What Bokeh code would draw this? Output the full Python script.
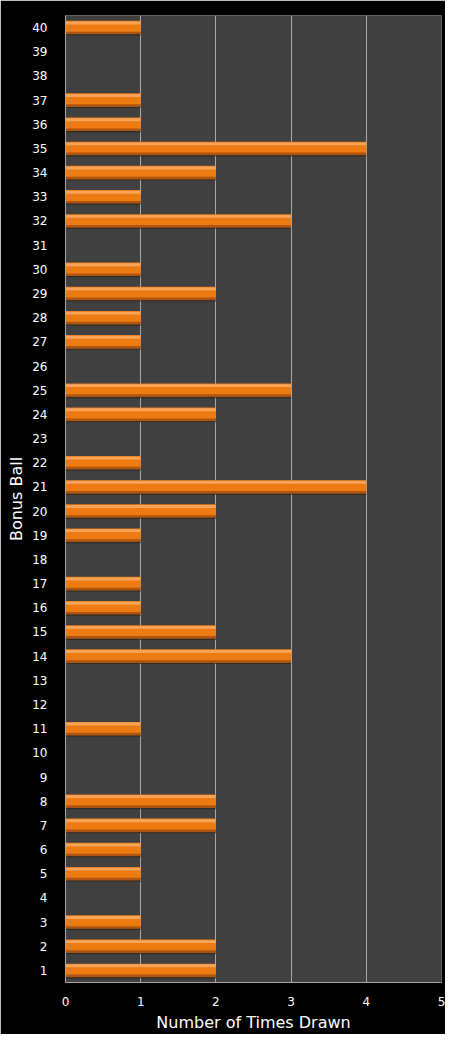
from bokeh.embed import file_html
from bokeh.resources import INLINE
from bokeh.models import ColumnDataSource, FactorRange, Range1d, FixedTicker
from bokeh.plotting import figure
from bokeh.transform import dodge

# bonus ball numbers and how often each one was drawn
balls = [str(i) for i in range(1, 41)]
times_drawn = [2, 2, 1, 0, 1, 1, 2, 2, 0, 0,
               1, 0, 0, 3, 2, 1, 1, 0, 1, 2,
               4, 1, 0, 2, 3, 0, 1, 1, 2, 1,
               0, 3, 1, 2, 4, 1, 1, 0, 0, 1]
x_ticks = [0, 1, 2, 3, 4, 5]

src = ColumnDataSource(dict(ball=balls, n=times_drawn))

p = figure(y_range=FactorRange(*balls, range_padding=0), x_range=Range1d(0, 5),
           width=445, height=1034, output_backend="svg", toolbar_location=None,
           min_border_left=65, min_border_right=4, min_border_top=15, min_border_bottom=49,
           background_fill_color="#404040", border_fill_color="#000000",
           outline_line_color=None)

# bar body + shading strips for the glossy look
p.hbar(y='ball', right='n', left=0, height=0.56, source=src,
       fill_color="#ee7b12", line_color=None)
p.hbar(y=dodge('ball', 0.19, range=p.y_range), right='n', left=0, height=0.12, source=src,
       fill_color="#f7a458", line_color=None)
p.hbar(y=dodge('ball', -0.22, range=p.y_range), right='n', left=0, height=0.1, source=src,
       fill_color="#b05510", line_color=None)
p.hbar(y=dodge('ball', -0.3, range=p.y_range), right='n', left=0, height=0.06, source=src,
       fill_color="#2a2018", fill_alpha=0.6, line_color=None)

p.xaxis.ticker = FixedTicker(ticks=x_ticks)
p.xgrid.grid_line_color = "#a8a8a8"
p.xgrid.grid_line_width = 1
p.ygrid.grid_line_color = None

for ax in (p.xaxis[0], p.yaxis[0]):
    ax.axis_line_color = "#a8a8a8"
    ax.major_tick_line_color = None
    ax.minor_tick_line_color = None
    ax.major_label_text_color = "#ffffff"
    ax.major_label_text_font = "DejaVu Sans"
    ax.major_label_text_font_size = "12px"
    ax.axis_label_text_color = "#ffffff"
    ax.axis_label_text_font = "DejaVu Sans"
    ax.axis_label_text_font_size = "16px"
    ax.axis_label_text_font_style = "normal"

p.xaxis.axis_label = "Number of Times Drawn"
p.yaxis.axis_label = "Bonus Ball"
p.xaxis.major_label_standoff = 8
p.yaxis.major_label_standoff = 12
p.xaxis.axis_label_standoff = 4
p.yaxis.axis_label_standoff = 3

open("out.html", "w").write(file_html(p, INLINE))
